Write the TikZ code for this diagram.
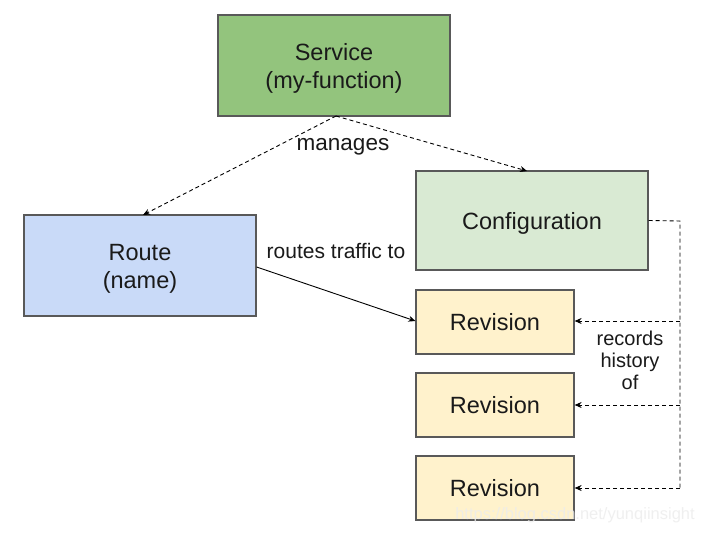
\documentclass[tikz,border=0pt]{standalone}
\usepackage{fontspec}
\setmainfont{Liberation Sans}
\usetikzlibrary{arrows.meta}
\definecolor{svcfill}{HTML}{93C47D}
\definecolor{routefill}{HTML}{C9DAF8}
\definecolor{conffill}{HTML}{D9EAD3}
\definecolor{revfill}{HTML}{FFF2CC}
\definecolor{edgegray}{HTML}{595959}
\definecolor{txt}{HTML}{1a1a1a}
\newcommand{\lowtxt}[1]{\raisebox{-3pt}[\height][\depth]{\begin{tabular}{@{}c@{}}#1\end{tabular}}}
\begin{document}
\begin{tikzpicture}[x=1pt,y=-1pt,
  box/.style={draw=edgegray,line width=1.2pt,inner sep=0pt,align=center,
    font=\fontsize{23.5}{28}\selectfont,text=txt},
  lbl/.style={font=\fontsize{21}{23}\selectfont,text=txt,align=center},
  dashconn/.style={draw=black,dash pattern=on 4pt off 3pt,line width=0.9pt,
    -{Stealth[length=7pt,width=6pt]}},
  solidconn/.style={draw=black,line width=0.9pt,-{Stealth[length=7pt,width=6pt]}},
  plainconn/.style={draw=black,dash pattern=on 4pt off 3pt,line width=0.9pt}]
\useasboundingbox (0,0) rectangle (703,534);
\fill[white] (0,0) rectangle (703,534);
\node[box,fill=svcfill,minimum width=232pt,minimum height=101pt] (svc) at (334,65.5) {\lowtxt{Service\\(my-function)}};
\node[box,fill=routefill,minimum width=232pt,minimum height=101pt] (route) at (140,265.5) {\lowtxt{Route\\(name)}};
\node[box,fill=conffill,minimum width=232pt,minimum height=99pt] (conf) at (532,220.5) {\lowtxt{Configuration}};
\node[box,fill=revfill,minimum width=158pt,minimum height=64pt] (rev1) at (495,322) {Revision};
\node[box,fill=revfill,minimum width=158pt,minimum height=64pt] (rev2) at (495,405) {Revision};
\node[box,fill=revfill,minimum width=158pt,minimum height=64pt] (rev3) at (495,488) {Revision};
\coordinate (sb) at (336,116);
\coordinate (corner) at (680,221);
\coordinate (j1) at (680,321);
\coordinate (j2) at (680,405);
\coordinate (j3) at (680,488);
\draw[dashconn] (sb) -- (143,215) coordinate (rt);
\draw[dashconn] (sb) -- (527,171) coordinate (ct);
\node[lbl,font=\fontsize{22.5}{23}\selectfont] (manages) at (343,147) {manages};
\draw[solidconn] (route.east |- 0,267) -- (rev1.west |- 0,321);
\node[lbl] (rtt) at (336,251) {routes traffic to};
\draw[plainconn] (conf.east) -- (corner) -- (j3);
\draw[dashconn] (j1) -- (rev1.east |- j1);
\draw[dashconn] (j2) -- (rev2.east);
\draw[dashconn] (j3) -- (rev3.east);
\node[lbl,font=\fontsize{20}{22}\selectfont] (rho) at (630,360) {records\\history\\of};
\node[font=\fontsize{16.5}{20}\selectfont,text=white!85!gray,opacity=0.8] (wm) at (575,515) {https://blog.csdn.net/yunqiinsight};
\end{tikzpicture}
\end{document}
